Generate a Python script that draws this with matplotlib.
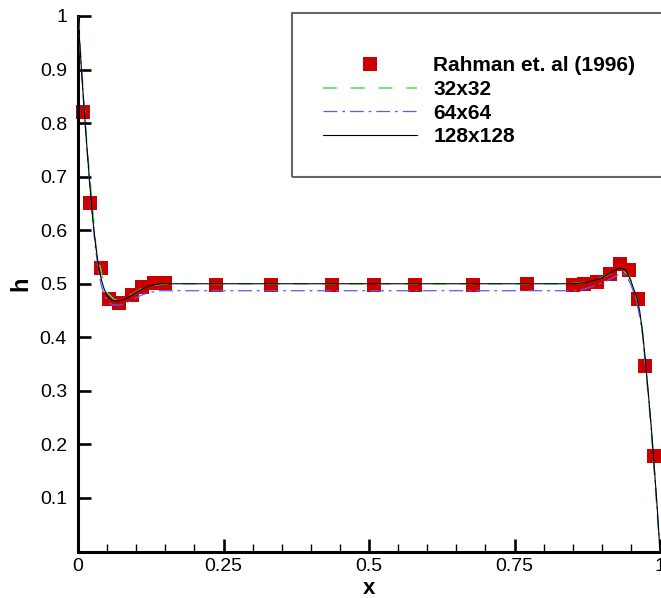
import matplotlib
matplotlib.use("Agg")
import matplotlib.pyplot as plt
from matplotlib.patches import Rectangle
from matplotlib.lines import Line2D
import numpy as np

plt.rcParams['font.family'] = ['Liberation Sans', 'DejaVu Sans']
plt.rcParams['lines.scale_dashes'] = False

# Rahman et. al (1996) reference points
rahman_x = [0.009, 0.021, 0.039, 0.053, 0.071, 0.093, 0.110, 0.131, 0.150,
            0.237, 0.332, 0.436, 0.508, 0.579, 0.679, 0.771,
            0.851, 0.870, 0.891, 0.914, 0.931, 0.947, 0.962, 0.975, 0.990]
rahman_h = [0.820, 0.651, 0.529, 0.472, 0.464, 0.479, 0.494, 0.501, 0.501,
            0.498, 0.498, 0.498, 0.498, 0.498, 0.498, 0.4995,
            0.498, 0.4995, 0.504, 0.518, 0.537, 0.526, 0.471, 0.347, 0.179]

# 32x32 grid
g32_x = [0.0, 0.0156, 0.03125, 0.047, 0.0625, 0.078, 0.094, 0.109, 0.125, 0.156,
         0.1875, 0.25, 0.5, 0.75, 0.844, 0.875, 0.906, 0.922, 0.931, 0.946,
         0.957, 0.969, 0.984, 1.0]
g32_h = [1.0, 0.755, 0.565, 0.487, 0.470, 0.471, 0.481, 0.491, 0.497, 0.500,
         0.500, 0.500, 0.500, 0.500, 0.500, 0.503, 0.514, 0.524, 0.528, 0.517,
         0.489, 0.420, 0.240, 0.0]

# 64x64 grid
g64_x = [0.0, 0.005, 0.01, 0.015, 0.02, 0.025, 0.03, 0.035, 0.04, 0.045, 0.05,
         0.055, 0.06, 0.065, 0.07, 0.08, 0.09, 0.10, 0.11, 0.12, 0.13, 0.14,
         0.15, 0.2, 0.5, 0.8, 0.85, 0.87, 0.89, 0.91, 0.92, 0.93, 0.935, 0.94,
         0.945, 0.95, 0.955, 0.96, 0.965, 0.97, 0.975, 0.98, 0.985, 0.99,
         0.995, 1.0]
g64_h = [1.0, 0.913, 0.832, 0.757, 0.686, 0.620, 0.567, 0.525, 0.497, 0.479,
         0.468, 0.463, 0.461, 0.460, 0.460, 0.463, 0.468, 0.474, 0.479, 0.483,
         0.485, 0.487, 0.487, 0.487, 0.487, 0.487, 0.487, 0.490, 0.497, 0.506,
         0.512, 0.518, 0.519, 0.516, 0.509, 0.498, 0.483, 0.465, 0.440, 0.405,
         0.352, 0.293, 0.230, 0.158, 0.083, 0.0]

# 128x128 grid
g128_x = [0.0, 0.005, 0.01, 0.015, 0.02, 0.025, 0.03, 0.035, 0.04, 0.045, 0.05,
          0.055, 0.06, 0.065, 0.07, 0.08, 0.09, 0.10, 0.11, 0.12, 0.13, 0.14,
          0.15, 0.2, 0.5, 0.8, 0.85, 0.87, 0.89, 0.90, 0.91, 0.92, 0.93, 0.935,
          0.94, 0.945, 0.95, 0.955, 0.96, 0.965, 0.97, 0.975, 0.98, 0.985,
          0.99, 0.995, 1.0]
g128_h = [1.0, 0.915, 0.835, 0.760, 0.690, 0.625, 0.575, 0.535, 0.508, 0.490,
          0.478, 0.472, 0.469, 0.468, 0.468, 0.471, 0.477, 0.484, 0.490, 0.495,
          0.498, 0.4995, 0.500, 0.500, 0.500, 0.500, 0.500, 0.502, 0.507, 0.511,
          0.517, 0.524, 0.529, 0.529, 0.526, 0.518, 0.505, 0.490, 0.475, 0.450,
          0.410, 0.355, 0.295, 0.232, 0.160, 0.085, 0.0]

labels = ['Rahman et. al (1996)', '32x32', '64x64', '128x128']
xticks = [0, 0.25, 0.5, 0.75, 1]
xticklabels = ['0', '0.25', '0.5', '0.75', '1']
yticks = [0.1, 0.2, 0.3, 0.4, 0.5, 0.6, 0.7, 0.8, 0.9, 1.0]
yticklabels = ['0.1', '0.2', '0.3', '0.4', '0.5', '0.6', '0.7', '0.8', '0.9', '1']

red = '#cc0000'
green = '#4cdc4c'
blue = '#5a5aff'

fig = plt.figure(figsize=(6.61, 5.98), dpi=100)
ax = fig.add_axes([78 / 661, 1 - 551.5 / 598, 582 / 661, 535.5 / 598])

ax.plot(rahman_x, rahman_h, 's', color=red, markersize=10.5, markeredgewidth=0, zorder=2, clip_on=False)
ax.plot(g32_x, g32_h, color=green, lw=1.1, dashes=[10, 10], zorder=3)
ax.plot(g64_x, g64_h, color=blue, lw=0.9, dashes=[10, 3.5, 2, 3.5], zorder=3)
ax.plot(g128_x, g128_h, color='black', lw=0.8, zorder=4)

ax.set_xlim(0, 1)
ax.set_ylim(0, 1)
ax.spines['top'].set_visible(False)
ax.spines['right'].set_visible(False)
for s in ['left', 'bottom']:
    ax.spines[s].set_linewidth(2.2)

ax.set_xticks(xticks)
ax.set_xticklabels(xticklabels)
ax.set_xticks(np.arange(0.05, 1.0, 0.05), minor=True)
ax.set_yticks(yticks)
ax.set_yticklabels(yticklabels)
ax.tick_params(axis='both', which='major', direction='in', length=9.5, width=1.9, labelsize=14)
ax.tick_params(axis='y', which='major', pad=8)
ax.tick_params(axis='x', which='major', pad=5)
ax.tick_params(axis='x', which='minor', direction='in', length=6, width=1.0)

ax.set_xlabel('x', fontsize=16, fontweight='bold', labelpad=2)
ax.set_ylabel('h', fontsize=17, fontweight='bold', labelpad=5)

# legend frame runs off the right edge
fig.patches.append(Rectangle((292 / 661, 1 - 177 / 598), 420 / 661, 164 / 598,
                             transform=fig.transFigure, fill=False,
                             edgecolor='#666666', lw=1.5))
handles = [Line2D([], [], ls='none', marker='s', color=red, markersize=10.5, markeredgewidth=0),
           Line2D([], [], color=green, lw=1.1, dashes=[10, 10]),
           Line2D([], [], color=blue, lw=0.9, dashes=[10, 3.5, 2, 3.5]),
           Line2D([], [], color='black', lw=0.8)]
fig.legend(handles, labels, loc='upper left', bbox_to_anchor=(313 / 661, 1 - 46 / 598),
           frameon=False, borderpad=0, handlelength=4.5, handletextpad=0.77,
           labelspacing=0.22, prop={'weight': 'bold', 'size': 15})

fig.savefig('out.png', dpi=100)
